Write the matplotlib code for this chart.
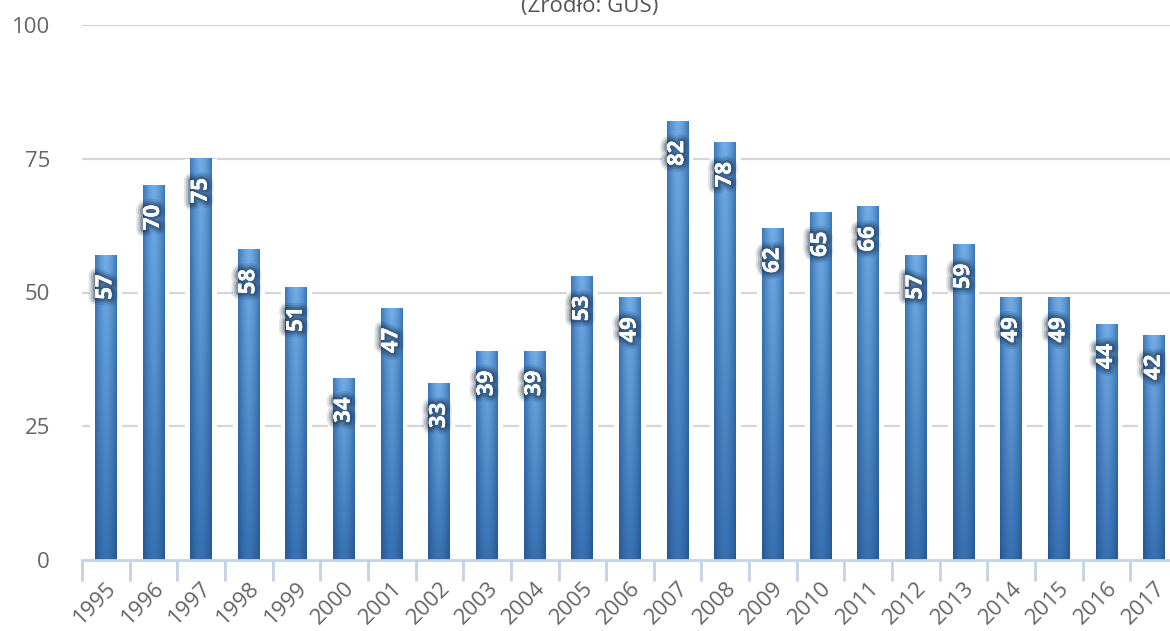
import numpy as np
import matplotlib
matplotlib.use("Agg")
import matplotlib.pyplot as plt
from matplotlib import patheffects as pe
from matplotlib.patches import Rectangle
from matplotlib.transforms import ScaledTranslation

years = [str(y) for y in range(1995, 2018)]
values = [57, 70, 75, 58, 51, 34, 47, 33, 39, 39, 53, 49, 82, 78, 62, 65, 66, 57, 59, 49, 49, 44, 42]
yticks = [0, 25, 50, 75, 100]
title = "(Źródło: GUS)"

plt.rcParams['font.family'] = ['Open Sans', 'DejaVu Sans']

fig = plt.figure(figsize=(11.7, 6.31), dpi=100)
ax = fig.add_axes([82 / 1170, 1 - 560 / 631, (1178 - 82) / 1170, (560 - 25) / 631])
ax.set_xlim(-0.5, len(years) - 0.5)
ax.set_ylim(0, 100)

# gradient image for bars
nx, ny = 64, 128
xs = np.linspace(-1, 1, nx)
ys = np.linspace(0, 1, ny)
hx = 1 - np.abs(xs) ** 1.6          # 1 at center, 0 at edges
X, Y = np.meshgrid(hx, ys)
top_c = np.array([0x72, 0xac, 0xe6]) / 255
top_e = np.array([0x3a, 0x76, 0xb8]) / 255
bot_c = np.array([0x38, 0x71, 0xb2]) / 255
bot_e = np.array([0x27, 0x58, 0x92]) / 255
center = bot_c[None, None, :] * (1 - Y[..., None]) + top_c[None, None, :] * Y[..., None]
edge = bot_e[None, None, :] * (1 - Y[..., None]) + top_e[None, None, :] * Y[..., None]
img = edge * (1 - X[..., None]) + center * X[..., None]

shadow = [pe.withStroke(linewidth=10, foreground='#10263f', alpha=0.12),
          pe.withStroke(linewidth=7, foreground='#10263f', alpha=0.18),
          pe.withStroke(linewidth=4, foreground='#10263f', alpha=0.3),
          pe.Normal()]

w = 0.46
for i, v in enumerate(values):
    halo = Rectangle((i - w / 2 - 0.1, 0), w + 0.2, v, facecolor='white', edgecolor='none', zorder=1.5)
    ax.add_patch(halo)
    ax.imshow(img, extent=[i - w / 2, i + w / 2, 0, v], origin='lower', aspect='auto',
              interpolation='bilinear', zorder=2)
    t = ax.annotate(str(v), xy=(i, v), xytext=(0, -23), textcoords='offset points',
                    rotation=90, ha='center', va='center', color='white',
                    fontsize=16, fontweight='bold', zorder=4)
    t.set_path_effects(shadow)

ax.set_xlim(-0.5, len(years) - 0.5)
ax.set_ylim(0, 100)

for y in yticks[1:]:
    ax.axhline(y, color='#d6d6d6', lw=1.6, zorder=1)
ax.axhline(0, color='#c3d2e4', lw=2, zorder=3, clip_on=False)

ax.set_yticks(yticks)
ax.set_yticklabels([str(t) for t in yticks], fontsize=16, color='#666666')
ax.tick_params(axis='y', length=0, pad=23)

ax.set_xticks(range(len(years)))
ax.set_xticklabels(years, rotation=45, ha='right', rotation_mode='anchor',
                   fontsize=16, color='#666666')
for lbl in ax.get_xticklabels():
    lbl.set_transform(lbl.get_transform() + ScaledTranslation(5 / 100, 0, fig.dpi_scale_trans))
ax.tick_params(axis='x', length=0, pad=13)
ax.set_xticks(np.arange(-0.5, len(years), 1), minor=True)
ax.tick_params(axis='x', which='minor', length=15, width=2, color='#c3d2e4')

for s in ax.spines.values():
    s.set_visible(False)

fig.text(590 / 1170, 1 - 12 / 631, title, ha='center', va='baseline', fontsize=16, color='#555555')

fig.savefig('out.png', dpi=100)
